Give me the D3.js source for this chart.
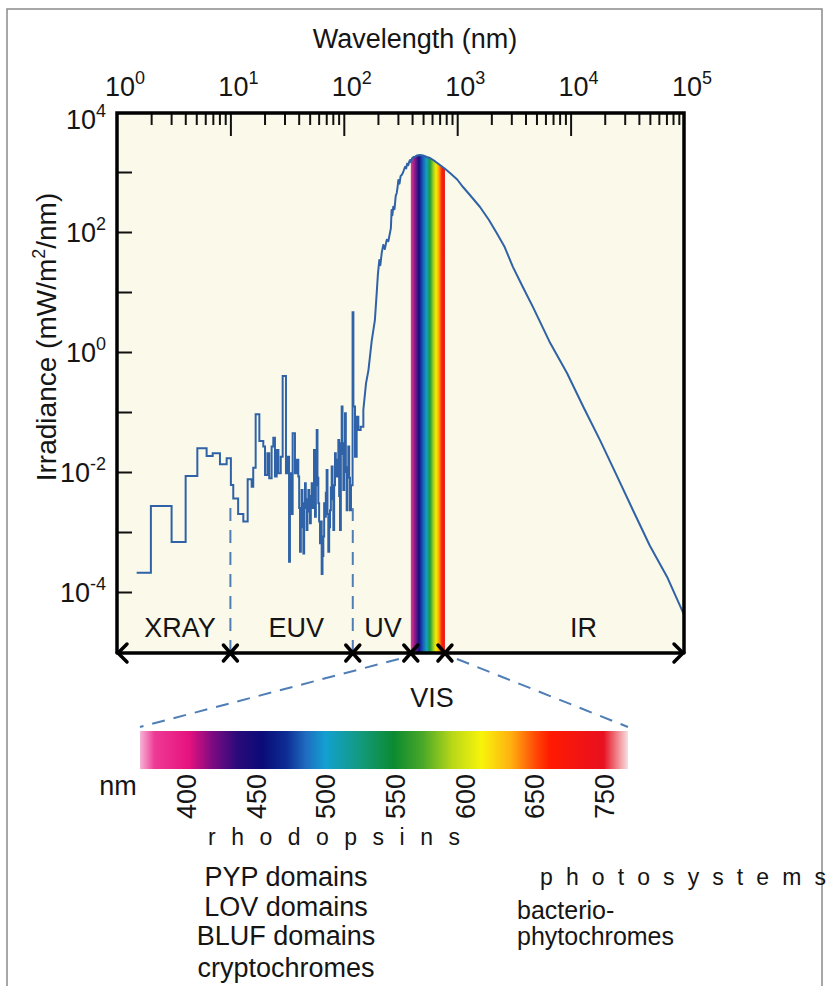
<!DOCTYPE html>
<html><head><meta charset="utf-8">
<script src="https://cdn.jsdelivr.net/npm/d3@7"></script>
<style>
body{margin:0;background:#fff}
text{font-family:"Liberation Sans",Arial,Helvetica,sans-serif;fill:#151515}
</style>
</head><body>
<svg id="c" width="830" height="986"></svg>
<script>
// ---------------- DATA ----------------
// Step-binned solar spectrum (X-ray / EUV / Lyman-alpha), wavelength nm -> irradiance mW/m2/nm
const stepLambda = [1.49,1.99,3.03,4.03,5.11,6.17,6.98,8.09,9.27,10.1,10.6,11.7,13.0,14.2,15.4,15.9,16.7,18.0,19.5,20.2,21.2,22.0,23.1,23.9,24.7,25.6,26.5,27.8,28.9,30.9,32.0,32.9,33.5,34.7,35.4,37.1,38.4,39.7,40.4,41.1,41.8,42.5,43.2,44.0,44.7,45.5,46.2,47.0,47.8,48.7,49.5,50.3,51.2,52.1,53.3,54.6,55.7,56.7,57.7,58.6,59.6,60.6,61.7,62.7,63.8,64.9,66.0,67.1,68.3,69.4,70.6,71.8,73.0,74.3,75.6,76.9,78.2,79.5,80.9,82.2,83.6,85.0,86.5,88.0,89.5,91.0,92.6,94.2,95.8,97.4,99.1,100.8,102.5,104.2,106.0,107.8,109.6,111.5,113.4,115.7,119.5,121.5,125.6,129.9,134.3,140.8,148.7];
const stepIrr = [2.1e-4,2.7e-3,6.8e-4,8.6e-3,0.0248,0.0185,0.0205,0.0134,0.0169,6.1e-3,3.6e-3,2.0e-3,1.5e-3,7.6e-3,5.7e-3,0.0118,0.0915,0.0329,0.0265,8.9e-3,0.0205,7.9e-3,0.0265,0.0374,8.4e-3,0.0233,9.5e-3,0.018,0.398,9.5e-3,0.018,3.2e-4,9.5e-3,2.0e-3,0.0442,9.5e-3,0.016,8.4e-3,2.5e-3,4.7e-4,1.2e-3,5.0e-3,2.0e-3,4.4e-4,3.0e-3,6.5e-3,2.5e-3,1.08e-3,3.5e-3,5.0e-3,2.2e-3,1.4e-3,4.0e-3,6.5e-3,2.5e-3,0.0233,1.8e-3,6.0e-3,0.05,8.0e-3,3.0e-3,1.5e-3,6.5e-4,1.5e-3,2.0e-4,4.0e-4,8.4e-4,3.0e-3,1.8e-3,4.5e-3,0.0108,2.0e-3,4.7e-4,1.2e-3,2.3e-3,5.5e-3,0.0123,3.5e-3,1.08e-3,6.0e-3,0.0205,0.012,8.4e-3,0.016,0.0342,4.0e-3,1.08e-3,0.03,0.123,0.02,5.0e-3,0.03,0.095,0.01,2.3e-3,0.012,0.0265,8.0e-3,2.3e-3,6.0e-3,4.6,0.123,0.018,0.0837,0.05,0.057,0.108];
// Continuous part (UV, visible, IR)
const contLambda = [148.7,157,165,176,188,195,200,205.6,210,216,223,230,239,247,255,260,264,268,273,280,287,293,298,303,310,317,324,333,340,347,355,362,370,378,384,392,400,412,425,440,455,470,500,540,576,640,705,780,864,1000,1125,1300,1589,1900,2230,2600,3105,3800,4660,6500,9290,13000,18160,25000,35500,50000,70800,100000];
const contIrr = [0.108,0.3,0.5,1.5,3.4,9.6,20,34,28,45,61,52,74,70,96,115,233,190,264,240,400,447,560,736,640,860,891,980,1100,1225,1150,1380,1300,1500,1585,1450,1700,1780,1800,1880,1900,1920,1880,1780,1711,1500,1308,1130,962,750,562,410,261,160,96,58,26,12,5.6,1.5,0.447,0.12,0.034,9.5e-3,2.3e-3,5.9e-4,1.8e-4,4.2e-5];

// axes
const xMajorTicks = [1,10,100,1000,10000,100000];
const xExponents = ["0","1","2","3","4","5"];
const yTickValues = [1e-4,1e-3,1e-2,1e-1,1,10,100,1000];
const yLabelValues = [1e4,1e2,1,1e-2,1e-4];
const yExponents = ["4","2","0","-2","-4"];

// spectral regions
const regionEdges = [1,10,120,390,780,100000];
const regionNames = ["XRAY","EUV","UV","IR"];
const regionLabelAt = [3.6,38,222,13000];
const visLabelAt = 600;
const dashedEdges = [10,120];
const dashedTopIrr = [3.5e-3,2.5e-3];

// visible colour bar
const barTickLabels = ["400","450","500","550","600","650","750"];
const bandRange = [390,780];

// photoreceptor labels
const blueReceptors = ["PYP domains","LOV domains","BLUF domains","cryptochromes"];
const redReceptors = ["bacterio-","phytochromes"];

// ---------------- STYLE ----------------
const barStops = [[0,"#f6b4d6"],[0.03,"#ee3a95"],[0.10,"#e6127e"],[0.15,"#7a0a82"],[0.20,"#2a0a7a"],[0.25,"#0b0b78"],[0.30,"#0d2d94"],[0.34,"#1f6cc0"],[0.38,"#12a0d0"],[0.45,"#139a80"],[0.52,"#0c8a30"],[0.58,"#4aa828"],[0.64,"#b8d818"],[0.70,"#f8f40a"],[0.76,"#ffb010"],[0.81,"#ff4a06"],[0.84,"#ff1a00"],[0.95,"#e81020"],[1,"#f6e0e0"]];
const bandStops = [[0,"#e03a90"],[0.12,"#8a1a8a"],[0.24,"#12107e"],[0.36,"#1a5fc0"],[0.46,"#15a0b8"],[0.56,"#1a9a40"],[0.66,"#a0d020"],[0.74,"#f4f000"],[0.83,"#ff9a00"],[0.91,"#f82010"],[1,"#e81818"]];
const lineColor = "#2f62a6";
const dashColor = "#4f7db5";
const FS = 27;
const SUP = 18;

// ---------------- DRAW ----------------
const svg = d3.select("#c");
const x = d3.scaleLog().domain([1,1e5]).range([117,684]);
const y = d3.scaleLog().domain([1e-5,1e4]).range([652,112]);
const yBase = y(1e-5) + 1;

const defs = svg.append("defs");
function grad(id, stops){
  const g = defs.append("linearGradient").attr("id",id).attr("x1","0%").attr("x2","100%").attr("y1","0%").attr("y2","0%");
  g.selectAll("stop").data(stops).join("stop").attr("offset",d=>d[0]).attr("stop-color",d=>d[1]);
}
grad("barGrad", barStops);
grad("bandGrad", bandStops);

// outer border
svg.append("rect").attr("x",7).attr("y",9).attr("width",815).attr("height",990)
  .attr("fill","none").attr("stroke","#8a8a8a").attr("stroke-width",1.5);

// plot background
svg.append("rect").attr("x",x.range()[0]).attr("y",113).attr("width",x.range()[1]-x.range()[0]).attr("height",yBase-113)
  .attr("fill","#fbfaea");

// title
svg.append("text").attr("x",415).attr("y",48).attr("text-anchor","middle").attr("font-size",FS).text("Wavelength (nm)");

// y label
const yl = svg.append("text").attr("transform","translate(56,337) rotate(-90)").attr("text-anchor","middle").attr("font-size",28);
yl.append("tspan").text("Irradiance (mW/m");
yl.append("tspan").attr("font-size",SUP).attr("dy",-11).text("2");
yl.append("tspan").attr("dy",11).text("/nm)");

// top axis ticks
const minorTicks = [];
for (let d=1; d<1e5; d*=10) for (let k=2;k<=9;k++) minorTicks.push(d*k);
svg.append("g").attr("transform","translate(0,113)")
  .call(d3.axisTop(x).tickValues(minorTicks).tickSize(-12).tickFormat(""))
  .call(g=>g.select(".domain").remove())
  .call(g=>g.selectAll("line").attr("stroke","#111").attr("stroke-width",2));
svg.append("g").attr("transform","translate(0,113)")
  .call(d3.axisTop(x).tickValues(xMajorTicks.slice(1,-1)).tickSize(-23).tickFormat(""))
  .call(g=>g.select(".domain").remove())
  .call(g=>g.selectAll("line").attr("stroke","#111").attr("stroke-width",2));

// top labels
xMajorTicks.forEach((v,i)=>{
  const t = svg.append("text").attr("x",x(v)+8).attr("y",96).attr("text-anchor","middle").attr("font-size",FS);
  t.append("tspan").text("10");
  t.append("tspan").attr("font-size",SUP).attr("dy",-12).text(xExponents[i]);
});

// left ticks
svg.append("g").attr("transform","translate(117,0)")
  .call(d3.axisLeft(y).tickValues(yTickValues).tickSize(-15).tickFormat(""))
  .call(g=>g.select(".domain").remove())
  .call(g=>g.selectAll("line").attr("stroke","#111").attr("stroke-width",2));

// left labels
yLabelValues.forEach((v,i)=>{
  const t = svg.append("text").attr("x",106).attr("y",y(v)+ (i===0?17:10)).attr("text-anchor","end").attr("font-size",FS);
  t.append("tspan").text("10");
  t.append("tspan").attr("font-size",SUP).attr("dy",-12).text(yExponents[i]);
});

// dashed region boundaries
dashedEdges.forEach((e,i)=>{
  svg.append("line").attr("x1",x(e)).attr("x2",x(e)).attr("y1",yBase).attr("y2",y(dashedTopIrr[i]))
    .attr("stroke",dashColor).attr("stroke-width",2).attr("stroke-dasharray","13,9");
});

// visible band under curve
const contPts = contLambda.map((l,i)=>[l,contIrr[i]]);
function interpLog(l){
  for (let i=1;i<contPts.length;i++){
    const a=contPts[i-1], b=contPts[i];
    if (l>=a[0] && l<=b[0]){
      const t=(Math.log(l)-Math.log(a[0]))/(Math.log(b[0])-Math.log(a[0]));
      return Math.exp(Math.log(a[1])+t*(Math.log(b[1])-Math.log(a[1])));
    }
  }
  return null;
}
const bandPts = [[bandRange[0],interpLog(bandRange[0])]]
  .concat(contPts.filter(p=>p[0]>bandRange[0]&&p[0]<bandRange[1]))
  .concat([[bandRange[1],interpLog(bandRange[1])]]);
svg.append("path").datum(bandPts)
  .attr("d", d3.area().x(d=>x(d[0])).y0(yBase).y1(d=>y(d[1])))
  .attr("fill","url(#bandGrad)");

// spectrum lines
const stepPts = stepLambda.map((l,i)=>[l,stepIrr[i]]);
stepPts.push([contLambda[0], stepIrr[stepIrr.length-1]]);
svg.append("path").datum(stepPts)
  .attr("d", d3.line().x(d=>x(d[0])).y(d=>y(d[1])).curve(d3.curveStepAfter))
  .attr("fill","none").attr("stroke",lineColor).attr("stroke-width",2).attr("stroke-linejoin","miter");
svg.append("path").datum(contPts)
  .attr("d", d3.line().x(d=>x(d[0])).y(d=>y(d[1])))
  .attr("fill","none").attr("stroke",lineColor).attr("stroke-width",2).attr("stroke-linejoin","round");

// frame (top, left, right)
svg.append("path")
  .attr("d",`M${x.range()[0]},${yBase}V113H${x.range()[1]}V${yBase}`)
  .attr("fill","none").attr("stroke","#000").attr("stroke-width",3.5);

// region labels
regionNames.forEach((n,i)=>{
  svg.append("text").attr("x",x(regionLabelAt[i])).attr("y",637).attr("text-anchor","middle").attr("font-size",FS).text(n);
});
svg.append("text").attr("x",x(visLabelAt)).attr("y",707).attr("text-anchor","middle").attr("font-size",FS).text("VIS");

// arrow line
const ax = svg.append("g").attr("stroke","#000").attr("stroke-width",3.5).attr("fill","none").attr("stroke-linecap","round");
ax.append("line").attr("x1",x.range()[0]).attr("x2",x.range()[1]).attr("y1",yBase).attr("y2",yBase);
ax.append("path").attr("d",`M${x.range()[0]+10},${yBase-9}L${x.range()[0]+1},${yBase}L${x.range()[0]+10},${yBase+9}`);
ax.append("path").attr("d",`M${x.range()[1]-10},${yBase-9}L${x.range()[1]-1},${yBase}L${x.range()[1]-10},${yBase+9}`);
regionEdges.slice(1,-1).forEach(e=>{
  const cx=x(e);
  ax.append("path").attr("d",`M${cx-7},${yBase-8}L${cx+7},${yBase+8}M${cx-7},${yBase+8}L${cx+7},${yBase-8}`);
});

// colour bar
const barX0=140, barX1=628, barY=731, barH=38;
svg.append("line").attr("x1",x(bandRange[0])-12).attr("y1",yBase+6).attr("x2",barX0).attr("y2",barY-4)
  .attr("stroke",dashColor).attr("stroke-width",2).attr("stroke-dasharray","13,9");
svg.append("line").attr("x1",x(bandRange[1])+12).attr("y1",yBase+6).attr("x2",barX1).attr("y2",barY-4)
  .attr("stroke",dashColor).attr("stroke-width",2).attr("stroke-dasharray","13,9");
svg.append("rect").attr("x",barX0).attr("y",barY).attr("width",barX1-barX0).attr("height",barH).attr("fill","url(#barGrad)");

const bx = d3.scalePoint().domain(barTickLabels).range([186,604]);
barTickLabels.forEach(l=>{
  svg.append("text").attr("transform",`translate(${bx(l)+10},774) rotate(-90)`)
    .attr("text-anchor","end").attr("font-size",FS).text(l);
});
svg.append("text").attr("x",118).attr("y",795).attr("text-anchor","middle").attr("font-size",FS).text("nm");

// receptor labels
svg.append("text").attr("x",208).attr("y",845).attr("font-size",23)
  .attr("textLength",252).attr("lengthAdjust","spacing").text("rhodopsins");
blueReceptors.forEach((r,i)=>{
  svg.append("text").attr("x",286).attr("y",886+i*29.5+(i===3?2:0)).attr("text-anchor","middle").attr("font-size",FS).text(r);
});
svg.append("text").attr("x",540).attr("y",885).attr("font-size",23)
  .attr("textLength",286).attr("lengthAdjust","spacing").text("photosystems");
redReceptors.forEach((r,i)=>{
  svg.append("text").attr("x",517).attr("y",919+i*26).attr("font-size",25).text(r);
});
</script>
</body></html>
